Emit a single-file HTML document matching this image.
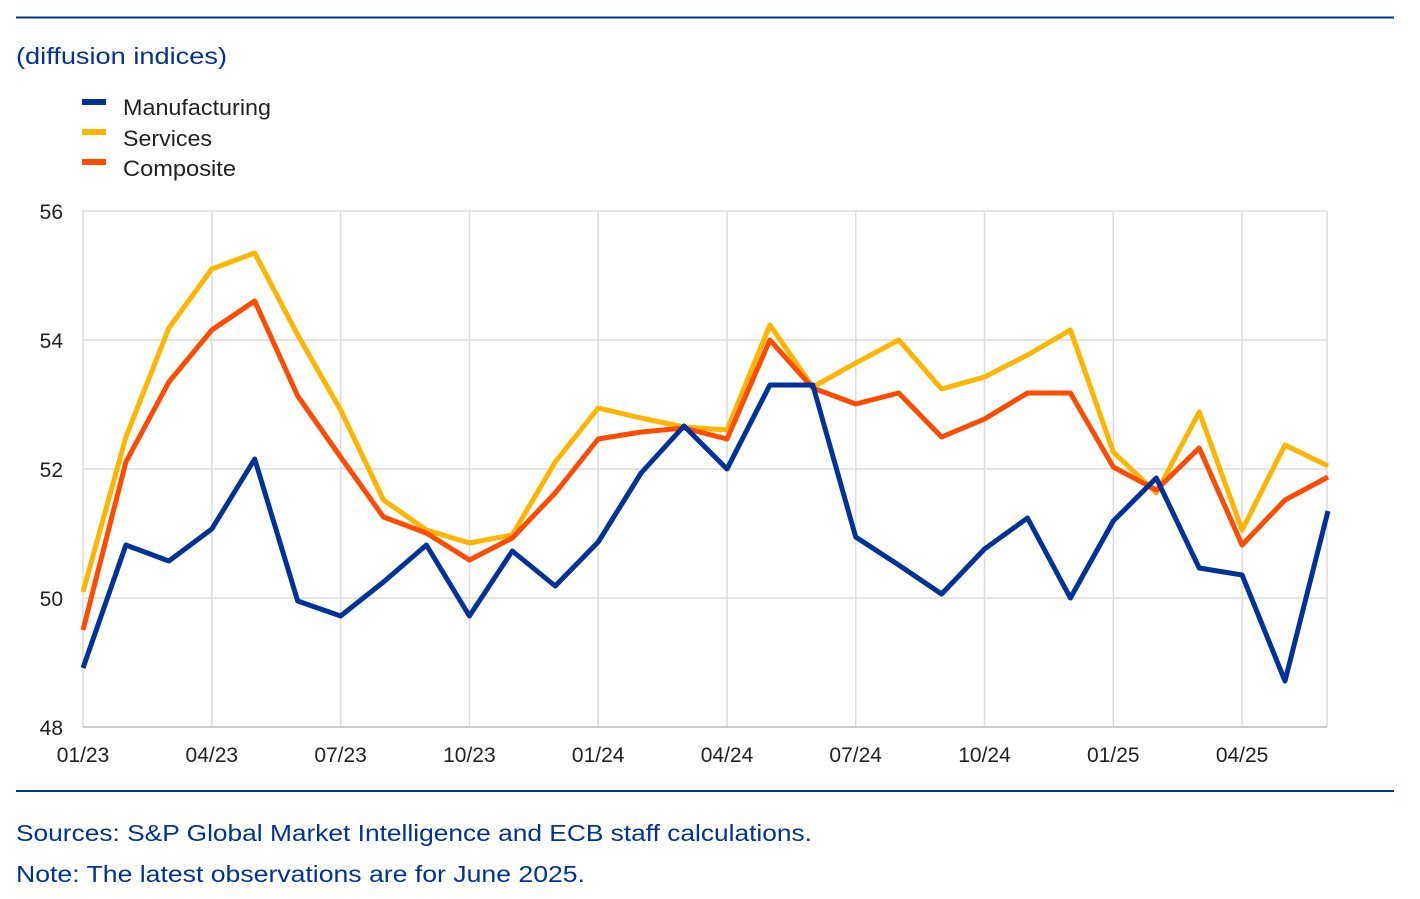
<!DOCTYPE html>
<html><head><meta charset="utf-8"><style>
body{margin:0;background:#fff;width:1420px;height:899px;overflow:hidden;font-family:"Liberation Sans",sans-serif}
</style></head><body>
<svg width="1420" height="899" xmlns="http://www.w3.org/2000/svg" style="position:absolute;left:0;top:0">
<line x1="16" y1="17.5" x2="1394" y2="17.5" stroke="#003299" stroke-width="2"/>
<line x1="16" y1="791" x2="1394" y2="791" stroke="#003299" stroke-width="2"/>
<text x="16" y="64" font-size="23" fill="#003299" textLength="211" lengthAdjust="spacingAndGlyphs">(diffusion indices)</text>
<g font-size="22" fill="#222">
<rect x="82" y="99" width="24" height="6" fill="#003299"/><text x="123" y="115" textLength="148" lengthAdjust="spacingAndGlyphs">Manufacturing</text>
<rect x="82" y="129" width="24" height="6" fill="#FFB400"/><text x="123" y="146" textLength="89" lengthAdjust="spacingAndGlyphs">Services</text>
<rect x="82" y="159" width="24" height="6" fill="#FF4B00"/><text x="123" y="176" textLength="113" lengthAdjust="spacingAndGlyphs">Composite</text>
</g>
<g stroke="#dcdcdc" stroke-width="1.5">
<line x1="83" y1="211" x2="1327" y2="211"/><line x1="83" y1="340" x2="1327" y2="340"/><line x1="83" y1="469" x2="1327" y2="469"/><line x1="83" y1="598" x2="1327" y2="598"/>
<line x1="83" y1="211" x2="83" y2="727"/><line x1="211.8" y1="211" x2="211.8" y2="727"/><line x1="340.6" y1="211" x2="340.6" y2="727"/><line x1="469.4" y1="211" x2="469.4" y2="727"/><line x1="598.2" y1="211" x2="598.2" y2="727"/><line x1="727" y1="211" x2="727" y2="727"/><line x1="855.7" y1="211" x2="855.7" y2="727"/><line x1="984.5" y1="211" x2="984.5" y2="727"/><line x1="1113.3" y1="211" x2="1113.3" y2="727"/><line x1="1242.1" y1="211" x2="1242.1" y2="727"/><line x1="1327" y1="211" x2="1327" y2="727"/>
</g>
<line x1="83" y1="727" x2="1327" y2="727" stroke="#bbb" stroke-width="1.5"/>
<g font-size="21" fill="#222" text-anchor="end">
<text x="63" y="219">56</text><text x="63" y="348">54</text><text x="63" y="477">52</text><text x="63" y="606">50</text><text x="63" y="735">48</text>
</g>
<g font-size="21" fill="#222" text-anchor="middle">
<text x="83" y="762">01/23</text><text x="211.8" y="762">04/23</text><text x="340.6" y="762">07/23</text><text x="469.4" y="762">10/23</text><text x="598.2" y="762">01/24</text><text x="727" y="762">04/24</text><text x="855.7" y="762">07/24</text><text x="984.5" y="762">10/24</text><text x="1113.3" y="762">01/25</text><text x="1242.1" y="762">04/25</text>
</g>
<g fill="none" stroke-width="5" stroke-linejoin="round">
<polyline stroke="#FFB400" points="83,592 125.9,437 168.9,328 211.8,269 254.7,253 297.7,335 340.6,410 383.5,500 426.4,530 469.4,543 512.3,535 555.2,462 598.2,408 641.1,418 684,427 727,430 769.9,325 812.8,387 855.7,363 898.7,340 941.6,389 984.5,377 1027.5,355 1070.4,330 1113.3,452 1156.3,493 1199.2,412 1242.1,530 1285,445 1328,466"/>
<polyline stroke="#FF4B00" points="83,630 125.9,462 168.9,382 211.8,330 254.7,301 297.7,396 340.6,457 383.5,517 426.4,533 469.4,560 512.3,538 555.2,493 598.2,439 641.1,432 684,428 727,439 769.9,340 812.8,388 855.7,404 898.7,393 941.6,437 984.5,419 1027.5,393 1070.4,393 1113.3,467 1156.3,490 1199.2,448 1242.1,545 1285,500 1328,477"/>
<polyline stroke="#003299" points="83,668 125.9,545 168.9,561 211.8,529 254.7,459 297.7,601 340.6,616 383.5,582 426.4,545 469.4,616 512.3,551 555.2,586 598.2,542 641.1,473 684,426 727,469 769.9,385 812.8,385 855.7,537 898.7,565 941.6,594 984.5,549 1027.5,518 1070.4,598 1113.3,521 1156.3,478 1199.2,568 1242.1,575 1285,681 1328,511"/>
</g>
<g font-size="23" fill="#003299">
<text x="16" y="841" textLength="796" lengthAdjust="spacingAndGlyphs">Sources: S&amp;P Global Market Intelligence and ECB staff calculations.</text>
<text x="16" y="882" textLength="569" lengthAdjust="spacingAndGlyphs">Note: The latest observations are for June 2025.</text>
</g>
</svg>
</body></html>
